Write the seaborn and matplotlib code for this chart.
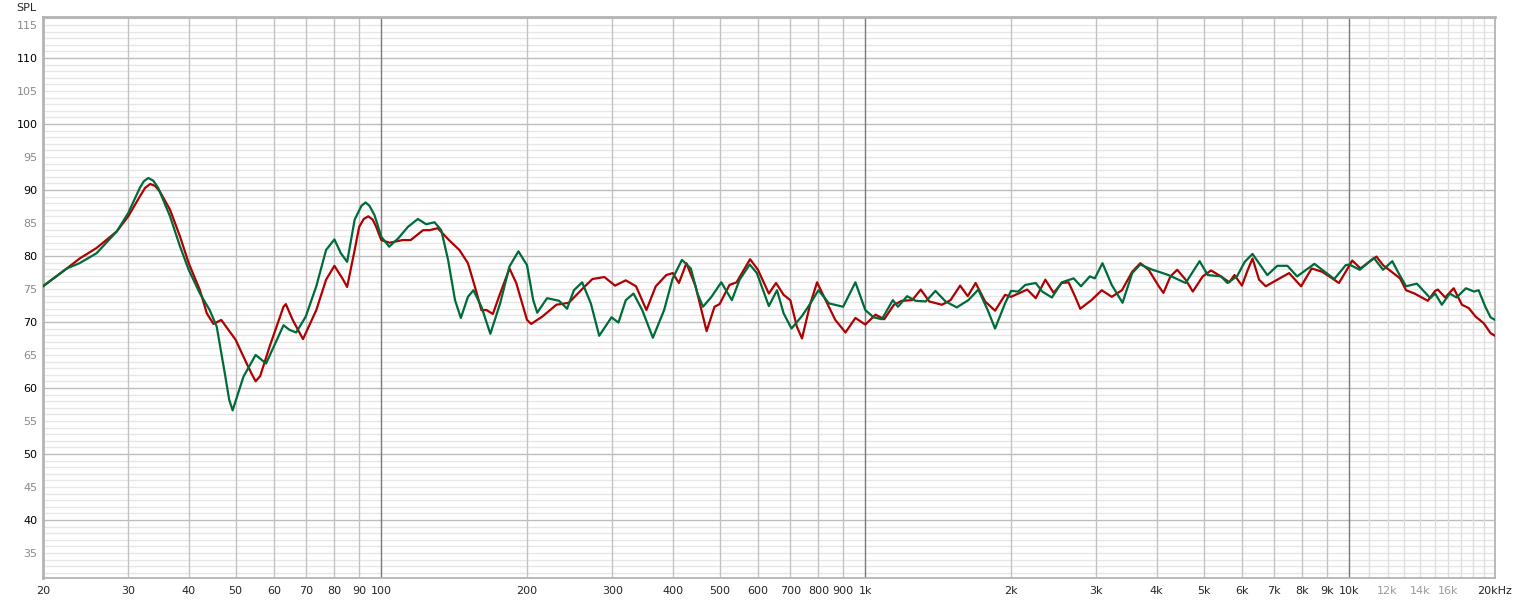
import numpy as np
import pandas as pd
import matplotlib
matplotlib.use("Agg")
import matplotlib.pyplot as plt
import seaborn as sns

# red trace (freq Hz, SPL dB)
red_freq = [20, 22.4, 23.8, 25.8, 28.4, 30, 31.7, 32.5, 33.3, 34.1, 34.9, 36.6, 38.4, 40, 42.2, 43.6, 45, 46.7,
            50, 52.7, 54, 55, 56.2, 58.8, 62.8, 63.5, 65.6, 68.9, 73.4, 76.9, 80, 83.1, 85, 88.1, 90, 92, 94, 96,
            97.6, 100, 104, 110.6, 115, 122, 125.8, 130.8, 138, 145, 151, 156, 161, 165, 170, 176, 184, 190,
            200, 204, 215, 230, 244, 261, 273, 289, 304, 320, 336, 353, 369, 388, 400, 412, 427, 446,
            470, 488, 500, 524, 542, 578, 600, 632, 654, 678, 700, 722, 740, 770, 795, 828, 867, 910,
            954, 1000, 1050, 1094, 1146, 1190, 1250, 1302, 1356, 1440, 1500, 1570, 1628, 1690, 1768,
            1854, 1944, 2000, 2160, 2250, 2355, 2450, 2546, 2630, 2715, 2780, 2932, 3080, 3230, 3390,
            3560, 3700, 3850, 4040, 4130, 4270, 4410, 4590, 4750, 4980, 5180, 5430, 5650, 5790, 6000,
            6170, 6310, 6510, 6720, 7100, 7510, 7950, 8360, 8790, 9220, 9520, 9830, 10140, 10550,
            10900, 11380, 11740, 12230, 12730, 13100, 13640, 14530, 15040, 15240, 15780, 16430,
            17090, 17650, 18240, 18960, 19580, 20000]
red_spl = [75.4, 78.1, 79.6, 81.2, 83.7, 86.0, 89.0, 90.3, 90.9, 90.6, 89.7, 87.0, 82.9, 78.9, 74.8, 71.3, 69.7, 70.3,
           67.3, 63.7, 62.1, 61.0, 61.8, 66.3, 72.3, 72.7, 70.3, 67.4, 71.8, 76.4, 78.5, 76.6, 75.3, 80.9, 84.4, 85.6, 86.0, 85.5,
           84.4, 82.4, 82.0, 82.4, 82.4, 83.9, 83.9, 84.2, 82.4, 80.9, 78.9, 75.4, 71.8, 71.8, 71.2, 74.3, 78.1, 75.9,
           70.3, 69.7, 70.8, 72.6, 72.9, 75.1, 76.5, 76.8, 75.5, 76.3, 75.4, 71.8, 75.4, 77.1, 77.4, 75.9, 78.9, 75.4,
           68.6, 72.3, 72.7, 75.6, 76.0, 79.5, 77.9, 74.3, 75.9, 74.1, 73.3, 69.3, 67.5, 72.8, 76.0, 73.3, 70.3, 68.4,
           70.6, 69.6, 71.1, 70.4, 72.6, 73.2, 73.3, 74.9, 73.1, 72.6, 73.3, 75.5, 73.9, 75.9, 73.1,
           71.7, 74.1, 73.8, 74.9, 73.6, 76.4, 74.4, 75.9, 76.0, 73.8, 72.0, 73.3, 74.8, 73.8, 74.8,
           77.6, 78.9, 77.9, 75.4, 74.4, 76.9, 77.9, 76.4, 74.6, 76.9, 77.8, 76.9, 76.0, 77.1, 75.5,
           77.9, 79.6, 76.4, 75.4, 76.4, 77.4, 75.4, 78.1, 77.6, 76.6, 75.9, 77.6, 79.3, 78.1,
           78.9, 79.9, 78.6, 77.6, 76.6, 74.8, 74.3, 73.2, 74.7, 74.9, 73.7, 75.1,
           72.6, 72.1, 70.8, 69.8, 68.3, 67.9]

# green trace
green_freq = [20, 22.4, 23.8, 25.8, 28.4, 30, 31.7, 32.3, 33.0, 33.8, 34.6, 36.6, 38.4, 40, 42.2, 44.2, 45.7, 47.5,
              48.5, 49.3, 50.2, 51.9, 55, 57.8, 62.8, 64.6, 66.7, 69.8, 73.4, 76.9, 80, 82.5, 85, 88.1, 91, 92.8,
              94.5, 96.8, 100, 103.8, 108.5, 113.5, 119, 123.8, 128.8, 133, 137.4, 142, 146, 151, 155, 161, 168, 176,
              184, 192, 200, 206, 210, 220, 233, 242, 250, 260, 271, 282, 299, 309, 320, 332, 346, 364,
              384, 400, 418, 436, 450, 462, 481, 504, 530, 550, 577, 597, 632, 657, 678, 704, 740, 770,
              800, 842, 900, 954, 1000, 1040, 1082, 1140, 1168, 1220, 1270, 1333, 1396, 1465, 1545,
              1633, 1712, 1790, 1854, 1944, 2000, 2070, 2140, 2250, 2320, 2430, 2546, 2695, 2790, 2910,
              2980, 3090, 3230, 3400, 3560, 3700, 3920, 4040, 4230, 4590, 4906, 5100, 5430, 5600, 5860,
              6080, 6310, 6580, 6770, 7100, 7450, 7800, 8470, 8790, 9310, 9830, 10000, 10510, 11240,
              11740, 12270, 12640, 13100, 13790, 14700, 15040, 15530, 16130, 16650, 17420, 18100,
              18500, 19100, 19580, 20000]
green_spl = [75.4, 78.1, 78.9, 80.4, 83.7, 86.5, 90.3, 91.3, 91.8, 91.4, 90.3, 86.0, 81.4, 77.9, 74.3, 71.8, 69.3, 62.2,
             58.2, 56.6, 58.4, 61.7, 65.0, 63.7, 69.5, 68.8, 68.4, 70.8, 75.4, 80.9, 82.5, 80.4, 79.1, 85.5, 87.6, 88.1,
             87.6, 86.2, 82.9, 81.4, 82.7, 84.4, 85.6, 84.8, 85.1, 83.9, 79.4, 73.3, 70.6, 73.8, 74.8, 72.3, 68.2, 72.8,
             78.4, 80.7, 78.6, 73.3, 71.4, 73.6, 73.2, 72.0, 74.8, 76.0, 72.8, 67.9, 70.7, 69.9, 73.3, 74.3, 71.8, 67.6,
             71.8, 76.6, 79.4, 78.1, 74.3, 72.3, 73.8, 76.0, 73.3, 76.4, 78.7, 77.4, 72.4, 74.8, 71.3, 69.0, 70.9, 72.8,
             74.8, 72.8, 72.3, 76.0, 71.8, 70.7, 70.4, 73.3, 72.3, 73.9, 73.2, 73.1, 74.7, 73.1, 72.2,
             73.3, 74.9, 71.8, 69.0, 72.8, 74.7, 74.6, 75.6, 75.9, 74.6, 73.7, 76.0, 76.6, 75.4, 76.9,
             76.6, 78.9, 75.6, 72.9, 77.4, 78.7, 77.9, 77.6, 77.1, 75.9, 79.2, 77.1, 76.9, 75.9, 76.9,
             79.1, 80.3, 78.4, 77.1, 78.5, 78.5, 76.9, 78.8, 77.9, 76.5, 78.6, 78.7, 77.9, 79.7,
             77.9, 79.2, 77.4, 75.4, 75.8, 73.6, 74.3, 72.6, 74.3, 73.7, 75.1, 74.6,
             74.8, 72.3, 70.7, 70.3]

x_ticks = [20, 30, 40, 50, 60, 70, 80, 90, 100, 200, 300, 400, 500, 600, 700, 800, 900,
           1000, 2000, 3000, 4000, 5000, 6000, 7000, 8000, 9000, 10000, 12000, 14000, 16000, 20000]
x_labels = ["20", "30", "40", "50", "60", "70", "80", "90", "100", "200", "300", "400", "500",
            "600", "700", "800", "900", "1k", "2k", "3k", "4k", "5k", "6k", "7k", "8k", "9k",
            "10k", "12k", "14k", "16k", "20kHz"]
y_ticks = list(range(35, 116, 5))

sns.set_style("white")
plt.rcParams['font.family'] = ['DejaVu Sans']

red_df = pd.DataFrame({"freq": red_freq, "spl": red_spl})
green_df = pd.DataFrame({"freq": green_freq, "spl": green_spl})

W, H = 1516, 603
fig = plt.figure(figsize=(W / 100, H / 100), dpi=100)
ax = fig.add_axes([43 / W, 1 - 578 / H, (1495 - 43) / W, (578 - 17) / H])

# grid, drawn by hand in the REW manner
for db in range(32, 117):
    col = "#bdbdbd" if db % 10 == 0 else "#e6e6e6"
    ax.axhline(db, color=col, lw=1, zorder=0)
for dec in [10, 100, 1000]:
    for m in range(2, 10):
        ax.axvline(dec * m, color="#c2c2c2", lw=1, zorder=0)
for f in [100, 1000, 10000]:
    ax.axvline(f, color="#7a7a7a", lw=1, zorder=0.5)
for f in range(11000, 20000, 1000):
    ax.axvline(f, color="#dedede", lw=1, zorder=0)

sns.lineplot(data=red_df, x="freq", y="spl", color="#b00000", lw=1.6, ax=ax,
             estimator=None, sort=False, zorder=3)
sns.lineplot(data=green_df, x="freq", y="spl", color="#006b3a", lw=1.6, ax=ax,
             estimator=None, sort=False, zorder=4)

ax.set_xscale("log")
ax.set_xlim(20, 20000)
ax.set_ylim(31.2, 116.2)
ax.set_xticks(x_ticks)
ax.set_xticklabels(x_labels)
ax.minorticks_off()
ax.set_yticks(y_ticks)
ax.set_yticklabels([str(v) for v in y_ticks])
ax.tick_params(axis="both", length=0, labelsize=8)
ax.tick_params(axis="x", pad=6)
ax.tick_params(axis="y", pad=4)
ax.set_xlabel("")
ax.set_ylabel("")

for lbl in ax.get_xticklabels():
    if lbl.get_text() in ("12k", "14k", "16k"):
        lbl.set_color("#9a9a9a")
for lbl, v in zip(ax.get_yticklabels(), y_ticks):
    lbl.set_color("#000000" if v % 10 == 0 else "#8a8a8a")

for side in ["left", "top"]:
    ax.spines[side].set_color("#b4b4b4")
    ax.spines[side].set_linewidth(2)
for side in ["right", "bottom"]:
    ax.spines[side].set_color("#b4b4b4")
    ax.spines[side].set_linewidth(1.3)

fig.text(16 / W, 1 - 8 / H, "SPL", fontsize=8, va="center", ha="left")

fig.savefig("out.png", dpi=100)
